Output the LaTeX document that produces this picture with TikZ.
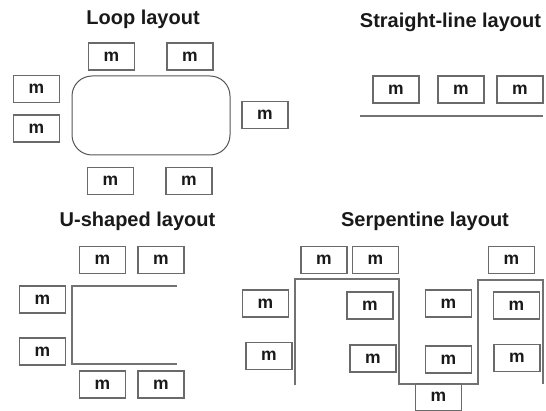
\documentclass[tikz,border=0pt]{standalone}
\usepackage{fontspec}
\setmainfont{Liberation Sans}
\begin{document}
\begin{tikzpicture}[x=1pt,y=-1pt,
  mbox/.style={draw=boxgray,line width=1.3pt,minimum width=46pt,minimum height=27pt,
    inner sep=0pt,font=\fontsize{17.5}{20}\selectfont\bfseries,text=black!90},
  title/.style={anchor=base,font=\fontsize{20}{24}\selectfont\bfseries,text=black!90,inner sep=0pt},
  track/.style={draw=linegray,line width=1.4pt}]
\definecolor{boxgray}{HTML}{6A6A6A}
\definecolor{linegray}{HTML}{727272}
\definecolor{loopgray}{HTML}{555555}
\useasboundingbox (0,0) rectangle (546,411);

% Loop layout
\node[title] (tloop) at (143,25) {Loop layout};
\draw[draw=loopgray,line width=1pt,rounded corners=20pt] (72,76) rectangle (230,155);
\node[mbox] (l1) at (111.5,56.5) {m};
\node[mbox] (l2) at (190,56.5) {m};
\node[mbox] (l3) at (36.5,89) {m};
\node[mbox] (l4) at (36.5,128.5) {m};
\node[mbox] (l5) at (265,115) {m};
\node[mbox] (l6) at (110.5,181) {m};
\node[mbox] (l7) at (189,181) {m};

% Straight-line layout
\node[title] (tline) at (450.5,28) {Straight-line layout};
\node[mbox] (s1) at (396,89.5) {m};
\node[mbox] (s2) at (461,89.5) {m};
\node[mbox] (s3) at (520,89.5) {m};
\draw[track] (360,116) -- (543,116);

% U-shaped layout
\node[title] (tu) at (137.5,227) {U-shaped layout};
\node[mbox] (u1) at (102.5,260) {m};
\node[mbox] (u2) at (161,260) {m};
\node[mbox] (u3) at (42.5,299.5) {m};
\node[mbox] (u4) at (42.5,351.5) {m};
\node[mbox] (u5) at (102.5,384.5) {m};
\node[mbox] (u6) at (161,384.5) {m};
\draw[track] (177,286) -- (72,286) -- (72,364) -- (177,364);

% Serpentine layout
\node[title] (ts) at (425,227) {Serpentine layout};
\draw[track] (295,385) -- (295,279) -- (399,279) -- (399,384) -- (478,384)
  -- (478,280) -- (543,280) -- (543,384);
\node[mbox] (p1) at (324,260) {m};
\node[mbox] (p2) at (375.5,260) {m};
\node[mbox] (p3) at (511.5,260) {m};
\node[mbox] (p4) at (265.5,303.5) {m};
\node[mbox] (p5) at (269,356) {m};
\node[mbox] (p6) at (370,305.5) {m};
\node[mbox] (p7) at (373,358.5) {m};
\node[mbox] (p8) at (448.5,303.5) {m};
\node[mbox] (p9) at (448.5,359.5) {m};
\node[mbox] (p10) at (516.5,305.5) {m};
\node[mbox] (p11) at (517,358) {m};
\node[mbox] (p12) at (438.5,397) {m};
\end{tikzpicture}
\end{document}
